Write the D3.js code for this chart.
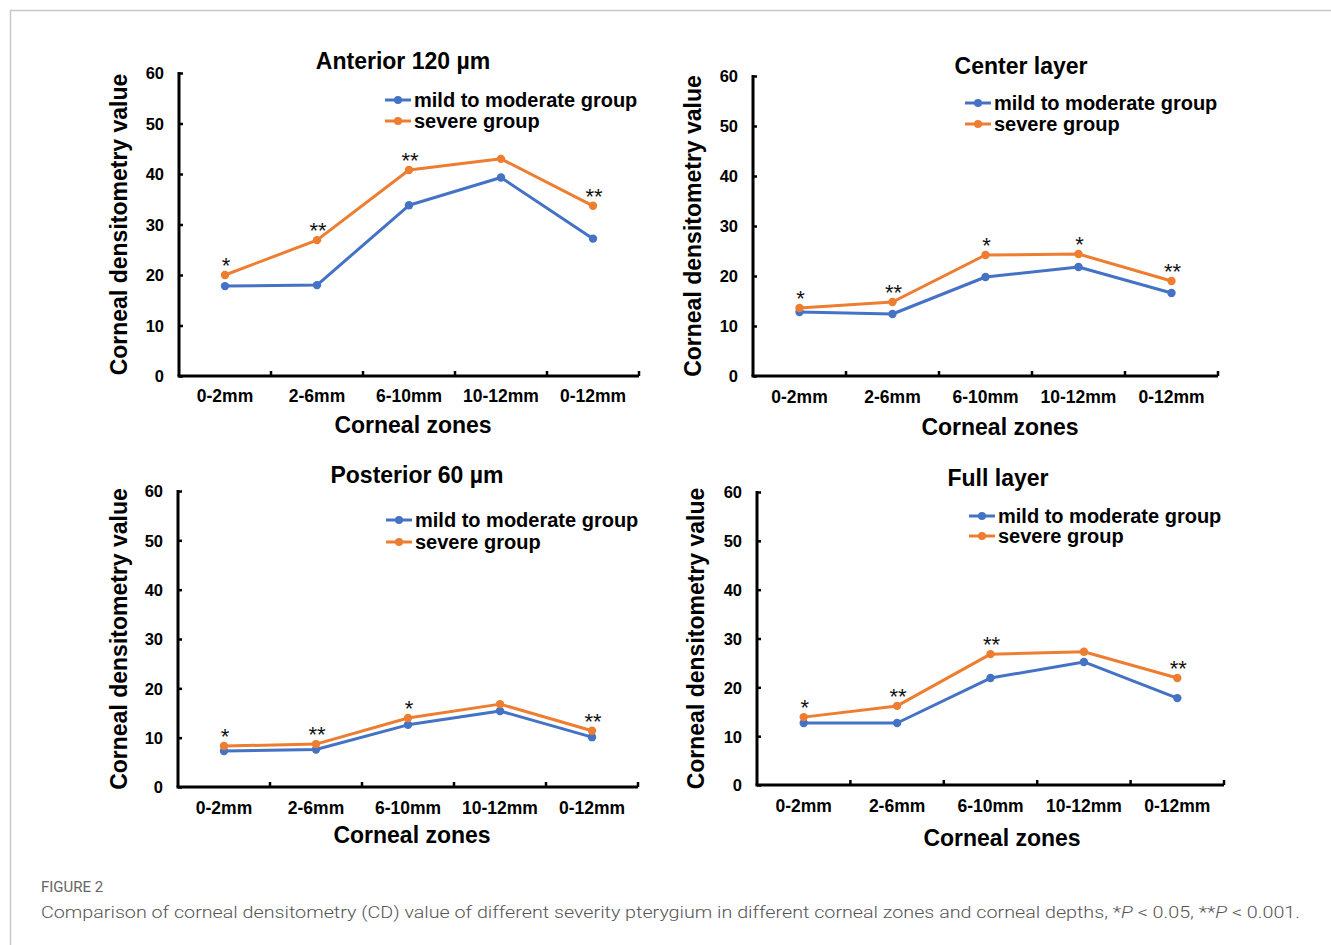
<!DOCTYPE html>
<html>
<head>
<meta charset="utf-8">
<script src="https://cdn.jsdelivr.net/npm/d3@7"></script>
<style>
  html, body { margin: 0; padding: 0; background: #fff; }
  svg { display: block; }
</style>
</head>
<body>
<svg id="chart" width="1331" height="945"></svg>
<script>
// ---------- data ----------
const zones = ["0-2mm", "2-6mm", "6-10mm", "10-12mm", "0-12mm"];
const yTicks = [0, 10, 20, 30, 40, 50, 60];
const seriesNames = ["mild to moderate group", "severe group"];
const panelTitles = ["Anterior 120 µm", "Center layer", "Posterior 60 µm", "Full layer"];

const anteriorMild   = [17.8, 18.0, 33.8, 39.3, 27.2];
const anteriorSevere = [20.0, 26.9, 40.8, 43.0, 33.7];
const anteriorSig    = ["*", "**", "**", "", "**"];

const centerMild   = [12.8, 12.4, 19.8, 21.8, 16.6];
const centerSevere = [13.6, 14.8, 24.2, 24.4, 19.0];
const centerSig    = ["*", "**", "*", "*", "**"];

const posteriorMild   = [7.3, 7.6, 12.6, 15.4, 10.1];
const posteriorSevere = [8.3, 8.7, 14.0, 16.8, 11.4];
const posteriorSig    = ["*", "**", "*", "", "**"];

const fullMild   = [12.7, 12.7, 21.9, 25.2, 17.8];
const fullSevere = [13.9, 16.2, 26.8, 27.3, 21.9];
const fullSig    = ["*", "**", "**", "", "**"];

const yLabel = "Corneal densitometry value";
const xLabel = "Corneal zones";
const figLabel = "FIGURE 2";

// ---------- layout (not data) ----------
const layouts = [
  { x0: 179, x1: 639, yTop: 73, yBot: 376, titleX: 403, titleY: 69, legX: 385, legY: 100, legGap: 21, yLabX: 120, xLabX: 413, xLabY: 433, tickY: 402 },
  { x0: 753, x1: 1218, yTop: 76, yBot: 376, titleX: 1021, titleY: 74, legX: 965, legY: 103, legGap: 21, yLabX: 694, xLabX: 1000, xLabY: 435, tickY: 403 },
  { x0: 178, x1: 638, yTop: 491, yBot: 787, titleX: 417, titleY: 483, legX: 386, legY: 520, legGap: 22, yLabX: 120, xLabX: 412, xLabY: 843, tickY: 814 },
  { x0: 757, x1: 1224, yTop: 492, yBot: 785, titleX: 998, titleY: 486, legX: 969, legY: 516, legGap: 20, yLabX: 697, xLabX: 1002, xLabY: 846, tickY: 812 }
];
const panelData = [
  [anteriorMild, anteriorSevere, anteriorSig],
  [centerMild, centerSevere, centerSig],
  [posteriorMild, posteriorSevere, posteriorSig],
  [fullMild, fullSevere, fullSig]
];
const colors = ["#4472C4", "#ED7D31"];
const FONT = "Arial, 'Liberation Sans', sans-serif";

const svg = d3.select("#chart");

// frame
svg.append("line").attr("x1", 10).attr("y1", 10.5).attr("x2", 1331).attr("y2", 10.5)
  .attr("stroke", "#c8c8c8").attr("stroke-width", 1.5);
svg.append("line").attr("x1", 10.5).attr("y1", 10).attr("x2", 10.5).attr("y2", 945)
  .attr("stroke", "#c8c8c8").attr("stroke-width", 1.5);

layouts.forEach((L, i) => {
  const [mild, severe, sig] = panelData[i];
  const g = svg.append("g");

  const x = d3.scaleBand().domain(zones).range([L.x0, L.x1]).padding(0);
  const y = d3.scaleLinear().domain([0, 60]).range([L.yBot, L.yTop]);

  // y axis
  const yAxis = d3.axisLeft(y).tickValues(yTicks).tickSize(-4).tickPadding(0);
  const ya = g.append("g").attr("transform", `translate(${L.x0},0)`).call(yAxis);
  ya.select(".domain").attr("stroke", "#000").attr("stroke-width", 3)
    .attr("d", `M0,${L.yTop - 1}V${L.yBot}`);
  ya.selectAll(".tick line").attr("stroke", "#000").attr("stroke-width", 2.5);
  ya.selectAll(".tick text").attr("x", -15).attr("dy", "0.36em")
    .attr("font-family", FONT).attr("font-weight", "bold").attr("font-size", 16.5).attr("fill", "#000");

  // x axis: ticks at band boundaries (inward)
  const xa = g.append("g").attr("transform", `translate(0,${L.yBot})`);
  xa.append("path").attr("d", `M${L.x0 - 1.5},0H${L.x1}`).attr("stroke", "#000").attr("stroke-width", 3).attr("fill", "none");
  xa.selectAll("line.bt").data(zones).enter().append("line")
    .attr("x1", d => x(d) + x.bandwidth()).attr("x2", d => x(d) + x.bandwidth())
    .attr("y1", 0).attr("y2", -5).attr("stroke", "#000").attr("stroke-width", 2.5);
  g.selectAll("text.xt").data(zones).enter().append("text")
    .attr("x", d => x(d) + x.bandwidth() / 2).attr("y", L.tickY)
    .attr("text-anchor", "middle").attr("font-family", FONT).attr("font-weight", "bold")
    .attr("font-size", 17.5).text(d => d);

  // titles and labels
  g.append("text").attr("x", L.titleX).attr("y", L.titleY).attr("text-anchor", "middle")
    .attr("font-family", FONT).attr("font-weight", "bold").attr("font-size", 23).text(panelTitles[i]);
  g.append("text").attr("transform", `translate(${L.yLabX + 7},${(L.yTop + L.yBot) / 2}) rotate(-90)`)
    .attr("text-anchor", "middle").attr("font-family", FONT).attr("font-weight", "bold")
    .attr("font-size", 23).text(yLabel);
  g.append("text").attr("x", L.xLabX).attr("y", L.xLabY).attr("text-anchor", "middle")
    .attr("font-family", FONT).attr("font-weight", "bold").attr("font-size", 23).text(xLabel);

  // lines
  const line = d3.line().x((d, j) => x(zones[j]) + x.bandwidth() / 2).y(d => y(d));
  [mild, severe].forEach((vals, s) => {
    g.append("path").datum(vals).attr("d", line).attr("fill", "none")
      .attr("stroke", colors[s]).attr("stroke-width", 3).attr("stroke-linejoin", "round");
    g.selectAll(null).data(vals).enter().append("circle")
      .attr("cx", (d, j) => x(zones[j]) + x.bandwidth() / 2).attr("cy", d => y(d))
      .attr("r", 4.2).attr("fill", colors[s]);
  });

  // significance marks
  g.selectAll(null).data(severe).enter().append("text")
    .attr("x", (d, j) => x(zones[j]) + x.bandwidth() / 2 + 1)
    .attr("y", d => y(d) - 2)
    .attr("text-anchor", "middle").attr("font-family", FONT).attr("font-size", 22)
    .attr("fill", "#111")
    .text((d, j) => sig[j]);

  // legend
  seriesNames.forEach((name, s) => {
    const ly = L.legY + s * L.legGap;
    g.append("line").attr("x1", L.legX).attr("x2", L.legX + 26).attr("y1", ly).attr("y2", ly)
      .attr("stroke", colors[s]).attr("stroke-width", 3);
    g.append("circle").attr("cx", L.legX + 13).attr("cy", ly).attr("r", 4).attr("fill", colors[s]);
    g.append("text").attr("x", L.legX + 29).attr("y", ly).attr("dy", "0.36em")
      .attr("font-family", FONT).attr("font-weight", "bold").attr("font-size", 20).text(name);
  });
});

// caption
svg.append("text").attr("x", 41).attr("y", 892).attr("font-family", "Roboto, 'Noto Sans', sans-serif")
  .attr("font-size", 15).attr("fill", "#666").text(figLabel);
const cap = svg.append("text").attr("x", 41).attr("y", 918)
  .attr("font-family", "Roboto, 'Noto Sans', sans-serif").attr("font-weight", 300)
  .attr("font-size", 17).attr("fill", "#555")
  .attr("textLength", 1259).attr("lengthAdjust", "spacingAndGlyphs");
cap.append("tspan").text("Comparison of corneal densitometry (CD) value of different severity pterygium in different corneal zones and corneal depths, *");
cap.append("tspan").attr("font-style", "italic").text("P");
cap.append("tspan").text(" < 0.05, **");
cap.append("tspan").attr("font-style", "italic").text("P");
cap.append("tspan").text(" < 0.001.");
</script>
</body>
</html>
